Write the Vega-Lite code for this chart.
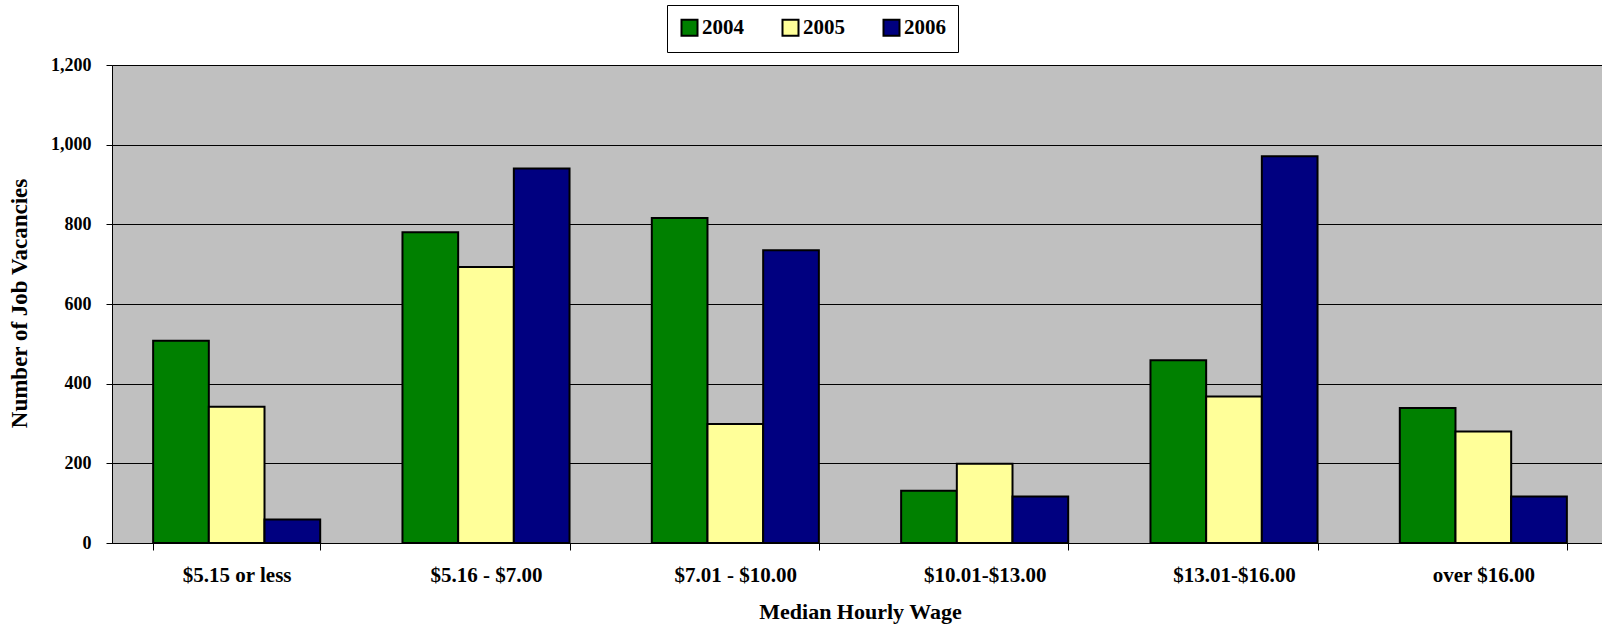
{
  "$schema": "https://vega.github.io/schema/vega-lite/v6.json",
  "width": 1496,
  "height": 478,
  "autosize": {"type": "none"},
  "padding": {"left": 112, "top": 65, "right": 0, "bottom": 82},
  "background": "white",
  "config": {
    "font": "Liberation Serif",
    "view": {"fill": "#C0C0C0", "stroke": "#808080", "strokeWidth": 1}
  },
  "data": {
    "values": [
      {"wage": "$5.15 or less", "year": "2004", "vacancies": 508},
      {"wage": "$5.15 or less", "year": "2005", "vacancies": 342},
      {"wage": "$5.15 or less", "year": "2006", "vacancies": 59},
      {"wage": "$5.16 - $7.00", "year": "2004", "vacancies": 780},
      {"wage": "$5.16 - $7.00", "year": "2005", "vacancies": 693},
      {"wage": "$5.16 - $7.00", "year": "2006", "vacancies": 940},
      {"wage": "$7.01 - $10.00", "year": "2004", "vacancies": 816},
      {"wage": "$7.01 - $10.00", "year": "2005", "vacancies": 299},
      {"wage": "$7.01 - $10.00", "year": "2006", "vacancies": 735},
      {"wage": "$10.01-$13.00", "year": "2004", "vacancies": 131},
      {"wage": "$10.01-$13.00", "year": "2005", "vacancies": 199},
      {"wage": "$10.01-$13.00", "year": "2006", "vacancies": 117},
      {"wage": "$13.01-$16.00", "year": "2004", "vacancies": 459},
      {"wage": "$13.01-$16.00", "year": "2005", "vacancies": 368},
      {"wage": "$13.01-$16.00", "year": "2006", "vacancies": 971},
      {"wage": "over $16.00", "year": "2004", "vacancies": 339},
      {"wage": "over $16.00", "year": "2005", "vacancies": 280},
      {"wage": "over $16.00", "year": "2006", "vacancies": 117}
    ]
  },
  "mark": {"type": "bar", "stroke": "black", "strokeWidth": 2},
  "encoding": {
    "x": {
      "field": "wage",
      "type": "nominal",
      "sort": ["$5.15 or less", "$5.16 - $7.00", "$7.01 - $10.00", "$10.01-$13.00", "$13.01-$16.00", "over $16.00"],
      "scale": {"paddingInner": 0.33, "paddingOuter": 0.165},
      "axis": {
        "title": "Median Hourly Wage",
        "labelAngle": 0,
        "labelFont": "Liberation Serif",
        "labelFontSize": 21,
        "labelFontWeight": "bold",
        "labelColor": "black",
        "labelPadding": 14,
        "tickBand": "extent",
        "tickSize": 7,
        "tickColor": "black",
        "domainColor": "black",
        "grid": false,
        "titleFont": "Liberation Serif",
        "titleFontSize": 22,
        "titleFontWeight": "bold",
        "titleColor": "black",
        "titleY": 75,
        "titleBaseline": "alphabetic"
      }
    },
    "xOffset": {
      "field": "year",
      "type": "nominal",
      "scale": {"paddingInner": 0, "paddingOuter": 0}
    },
    "y": {
      "field": "vacancies",
      "type": "quantitative",
      "scale": {"domain": [0, 1200]},
      "axis": {
        "title": "Number of Job Vacancies",
        "values": [0, 200, 400, 600, 800, 1000, 1200],
        "format": ",.0f",
        "grid": true,
        "gridColor": "black",
        "gridWidth": 1,
        "gridOpacity": 1,
        "domainColor": "black",
        "tickColor": "black",
        "tickSize": 6,
        "labelFont": "Liberation Serif",
        "labelFontSize": 18,
        "labelFontWeight": "bold",
        "labelColor": "black",
        "labelPadding": 15,
        "titleFont": "Liberation Serif",
        "titleFontSize": 23,
        "titleFontWeight": "bold",
        "titleColor": "black",
        "titleX": -86,
        "titleY": 238,
        "titleAngle": 270,
        "titleAlign": "center",
        "titleBaseline": "alphabetic"
      }
    },
    "color": {
      "field": "year",
      "type": "nominal",
      "scale": {"domain": ["2004", "2005", "2006"], "range": ["#008000", "#FFFF99", "#000080"]},
      "legend": {
        "title": null,
        "orient": "none",
        "legendX": 555,
        "legendY": -60,
        "direction": "horizontal",
        "symbolType": "square",
        "symbolSize": 256,
        "symbolStrokeColor": "black",
        "symbolStrokeWidth": 2,
        "symbolOpacity": 1,
        "labelFont": "Liberation Serif",
        "labelFontSize": 21,
        "labelFontWeight": "bold",
        "labelColor": "black",
        "labelOffset": 2,
        "columnPadding": 34,
        "padding": 12,
        "strokeColor": "black",
        "fillColor": "white"
      }
    }
  }
}
